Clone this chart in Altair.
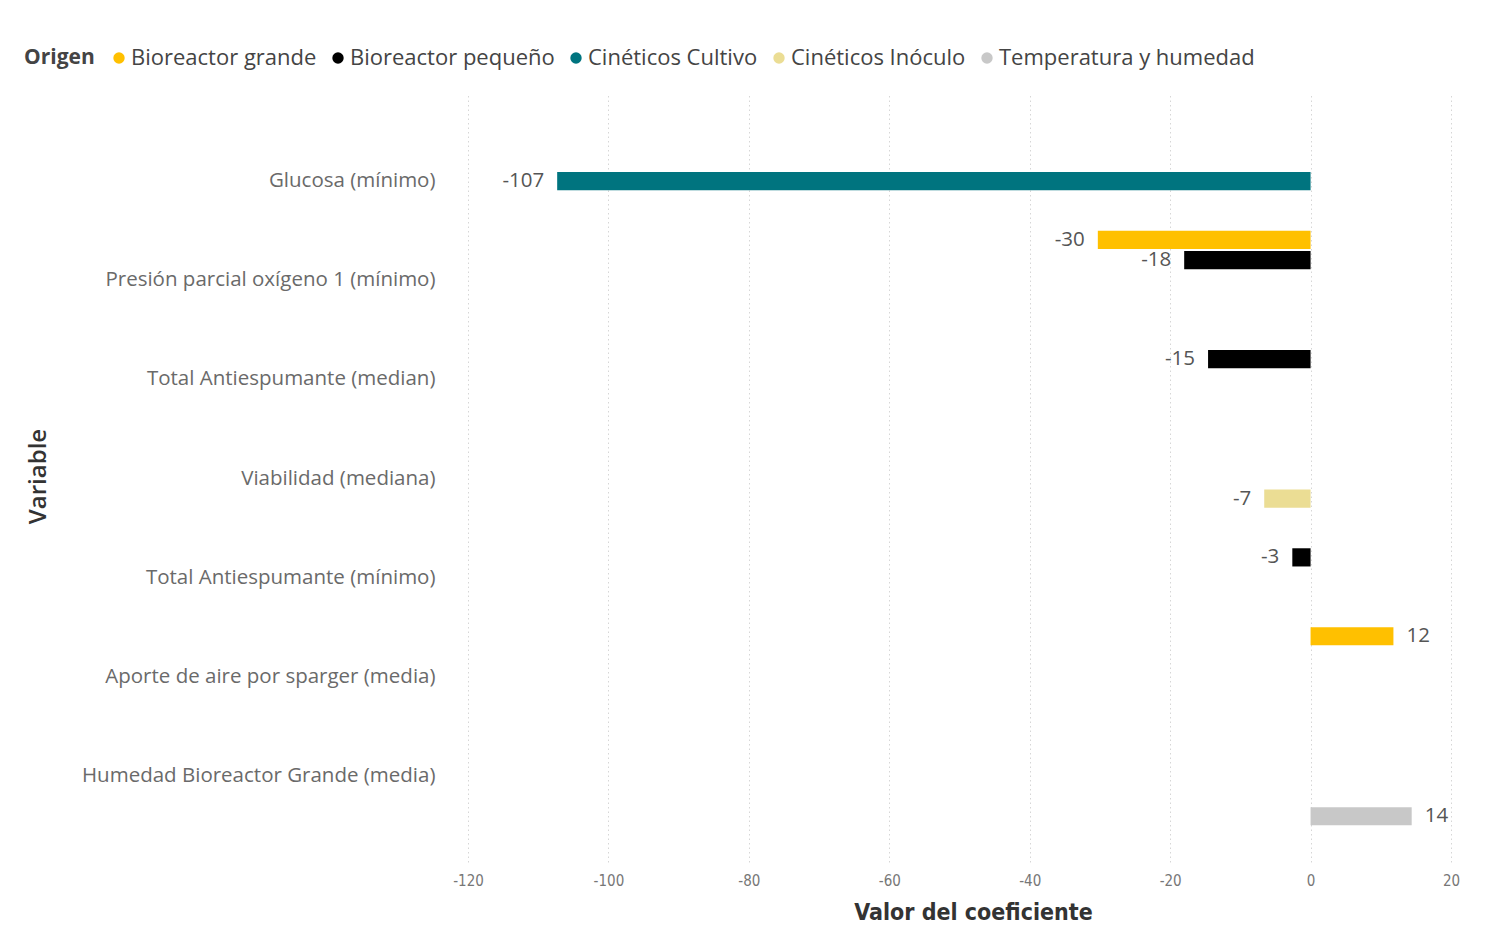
import altair as alt
import pandas as pd

variables = [
    "Glucosa (mínimo)",
    "Presión parcial oxígeno 1 (mínimo)",
    "Presión parcial oxígeno 1 (mínimo)",
    "Total Antiespumante (median)",
    "Viabilidad (mediana)",
    "Total Antiespumante (mínimo)",
    "Aporte de aire por sparger (media)",
    "Humedad Bioreactor Grande (media)",
]
origen = [
    "Cinéticos Cultivo",
    "Bioreactor grande",
    "Bioreactor pequeño",
    "Bioreactor pequeño",
    "Cinéticos Inóculo",
    "Bioreactor pequeño",
    "Bioreactor grande",
    "Temperatura y humedad",
]
valores = [-107.3, -30.3, -18.0, -14.6, -6.6, -2.6, 11.8, 14.4]

var_order = [
    "Glucosa (mínimo)",
    "Presión parcial oxígeno 1 (mínimo)",
    "Total Antiespumante (median)",
    "Viabilidad (mediana)",
    "Total Antiespumante (mínimo)",
    "Aporte de aire por sparger (media)",
    "Humedad Bioreactor Grande (media)",
]
origen_order = [
    "Bioreactor grande",
    "Bioreactor pequeño",
    "Cinéticos Cultivo",
    "Cinéticos Inóculo",
    "Temperatura y humedad",
]
colores = ["#FFC000", "#000000", "#00747F", "#EBDD94", "#C8C8C8"]
x_ticks = [-120, -100, -80, -60, -40, -20, 0, 20]

df = pd.DataFrame({"Variable": variables, "Origen": origen, "Valor": valores})

FONT = "Open Sans"
COND = "DejaVu Sans Condensed, Roboto, sans-serif"

y_enc = alt.Y(
    "Variable:N",
    sort=var_order,
    scale=alt.Scale(domain=var_order, paddingInner=0, paddingOuter=0.37),
    axis=alt.Axis(
        title="Variable",
        labelFont=FONT,
        labelFontSize=20.5,
        labelColor="#6a6a6a",
        labelPadding=33,
        labelLimit=0,
        ticks=False,
        domain=False,
        grid=False,
        titleFont=FONT,
        titleFontSize=24,
        titleFontWeight=600,
        titleColor="#333333",
        titleX=-430,
        titleY=381,
        titleAngle=-90,
        titleAlign="center",
        titleBaseline="middle",
    ),
)
yoff_enc = alt.YOffset(
    "Origen:N",
    scale=alt.Scale(domain=origen_order, paddingInner=0.1, paddingOuter=0),
)

bars = alt.Chart(df).mark_bar().encode(
    x=alt.X(
        "Valor:Q",
        scale=alt.Scale(domain=[-120, 20], nice=False, zero=False),
        axis=alt.Axis(
            values=x_ticks,
            labelExpr="'' + datum.value",
            title="Valor del coeficiente",
            labelFont=COND,
            labelFontSize=15,
            labelColor="#777777",
            labelPadding=11,
            labelFlush=False,
            labelOverlap=False,
            ticks=False,
            domain=False,
            grid=True,
            gridColor="#d6d6d6",
            gridDash=[1.5, 3],
            gridWidth=1,
            titleFont=COND,
            titleFontSize=23,
            titleFontWeight="bold",
            titleColor="#333333",
            titleX=505,
            titleY=50,
            titleBaseline="middle",
        ),
    ),
    y=y_enc,
    yOffset=yoff_enc,
    color=alt.Color(
        "Origen:N",
        scale=alt.Scale(domain=origen_order, range=colores),
        legend=alt.Legend(
            title="Origen",
            orient="none",
            legendX=-444,
            legendY=-48,
            direction="horizontal",
            titleOrient="left",
            titleFont=FONT,
            titleFontSize=21,
            titleFontWeight="bold",
            titleColor="#444444",
            titlePadding=16,
            labelFont=FONT,
            labelFontSize=22,
            labelColor="#444444",
            labelOffset=1,
            labelLimit=0,
            symbolType="circle",
            symbolSize=130,
            symbolStrokeWidth=0,
            symbolOffset=-3,
            columnPadding=13,
        ),
    ),
)

labels_base = alt.Chart(df).transform_calculate(
    etiqueta="'' + round(datum.Valor)"
)
neg = labels_base.transform_filter("datum.Valor < 0").mark_text(
    align="right", baseline="middle", dx=-13, font=FONT, fontSize=20.5,
    color="#555555"
).encode(
    x="Valor:Q",
    y=alt.Y("Variable:N", sort=var_order),
    yOffset=alt.YOffset("Origen:N"),
    text="etiqueta:N",
)
pos = labels_base.transform_filter("datum.Valor >= 0").mark_text(
    align="left", baseline="middle", dx=13, font=FONT, fontSize=20.5,
    color="#555555"
).encode(
    x="Valor:Q",
    y=alt.Y("Variable:N", sort=var_order),
    yOffset=alt.YOffset("Origen:N"),
    text="etiqueta:N",
)

chart = (
    alt.layer(bars, neg, pos)
    .properties(
        width=983,
        height=767,
        autosize=alt.AutoSizeParams(type="none"),
        padding={"left": 460, "top": 87, "right": 45, "bottom": 70},
        background="#ffffff",
    )
    .configure_view(stroke=None)
)

chart.save("out.html", embed_options={"renderer": "svg", "actions": False})
